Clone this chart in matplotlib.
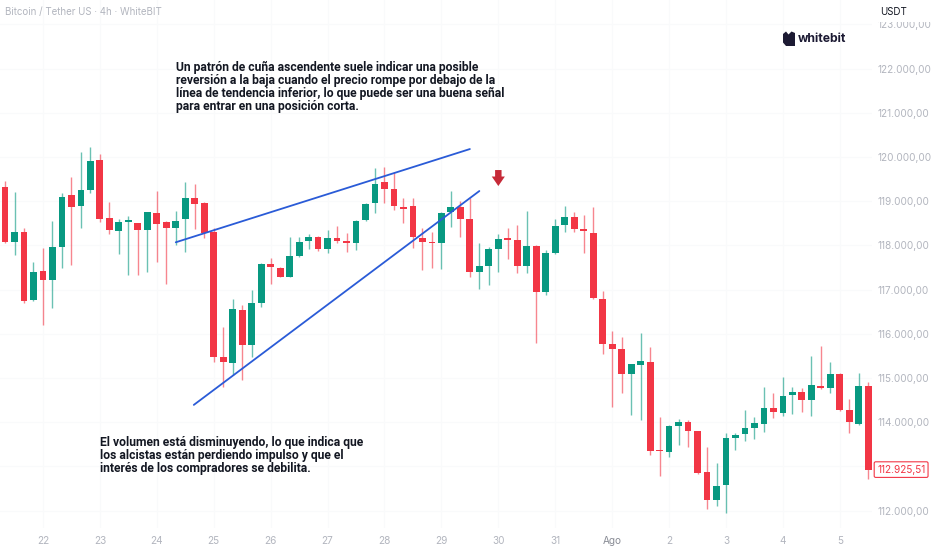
import matplotlib
matplotlib.use("Agg")
import matplotlib.pyplot as plt
import matplotlib.patches as mpatches
from matplotlib import ticker
from matplotlib.transforms import blended_transform_factory
import numpy as np

plt.rcParams['font.family'] = ['Inter', 'DejaVu Sans']

# BTC/USDT 4h candles, 21 Jul 08:00 -> 5 Aug
opens = [119330, 118080, 118310, 116760, 117410, 117220, 117970, 119130, 118890, 119250,
         119930, 118610, 118330, 118530, 118500, 118350, 118730, 118540, 118400, 118600,
         119070, 118950, 118310, 115470, 115330, 116540, 115740, 116690, 117580, 117480,
         117290, 117770, 118110, 118190, 117910, 118170, 118100, 118060, 118570, 118950,
         119430, 119270, 118860, 118880, 118170, 118060, 118050, 118750, 118860, 118590,
         117400, 117530, 117920, 118160, 118120, 117540, 117990, 116940, 117820, 118450,
         118650, 118360, 118290, 116790, 115770, 115650, 115090, 115300, 115360, 113370,
         113320, 113920, 114010, 113800, 112880, 112240, 112580, 113630, 113720, 113870,
         113950, 114330, 114210, 114610, 114680, 114500, 114820, 114770, 115080, 114270,
         113960, 114820]
highs = [119460, 119210, 118390, 117630, 117930, 118560, 119180, 119540, 120120, 120220,
         120070, 118980, 118590, 118670, 118510, 118760, 119240, 118560, 118770, 119440,
         119400, 118980, 118390, 116160, 116780, 116640, 116990, 117600, 117720, 117500,
         118180, 118190, 118260, 118220, 118350, 118440, 118270, 118570, 118950, 119740,
         119780, 119670, 119070, 119070, 118390, 118310, 118760, 119240, 119010, 119070,
         118050, 117970, 118250, 118390, 118470, 118780, 118000, 117900, 118590, 118890,
         118760, 118690, 118860, 116970, 116060, 115920, 115320, 116010, 115710, 114120,
         113930, 114060, 114050, 113810, 113430, 113070, 113750, 113750, 114270, 114110,
         114800, 114650, 115010, 114800, 114780, 115500, 115720, 115350, 115120, 114520,
         115110, 114900]
lows = [118050, 117780, 116690, 116730, 116200, 116580, 117480, 117560, 118390, 119190,
        118540, 118260, 117800, 117330, 117330, 117400, 117630, 117130, 118010, 117860,
        118360, 118160, 115370, 114800, 115070, 114950, 115470, 116600, 117130, 117280,
        117280, 117740, 117910, 117880, 117820, 118050, 117860, 117900, 118550, 118730,
        118950, 118800, 118500, 117930, 117440, 117480, 117460, 118420, 118180, 117290,
        117010, 117100, 117400, 117690, 117380, 117370, 115790, 116880, 117800, 118300,
        118310, 117830, 116790, 115540, 114350, 114670, 114160, 114050, 113260, 112770,
        113220, 113480, 113440, 112830, 112030, 112100, 111940, 113370, 113580, 113610,
        113780, 114090, 114140, 114180, 114240, 114140, 114740, 114650, 114260, 113760,
        113940, 112710]
closes = [118080, 118310, 116750, 117390, 117210, 117970, 119100, 118860, 119250, 119910,
          118600, 118350, 118530, 118550, 118350, 118750, 118480, 118400, 118550, 119070,
          118940, 118290, 115470, 115350, 116560, 115740, 116700, 117580, 117500, 117290,
          117770, 118080, 118190, 117910, 118170, 118100, 118060, 118560, 118940, 119400,
          119270, 118890, 118820, 118180, 118080, 118050, 118730, 118860, 118590, 117400,
          117530, 117920, 118150, 118120, 117540, 117990, 116940, 117830, 118440, 118640,
          118360, 118330, 116810, 115770, 115660, 115090, 115310, 115390, 113350, 113340,
          113920, 114010, 113810, 112840, 112240, 112560, 113630, 113710, 113870, 113970,
          114330, 114220, 114590, 114680, 114500, 114840, 114770, 115080, 114270, 114000,
          114820, 112925.51]

day_labels = ['22', '23', '24', '25', '26', '27', '28', '29', '30', '31', 'Ago', '2', '3', '4', '5']
first_day_idx = 4          # candle index of 22 Jul 00:00
bars_per_day = 6
price_ticks = [112000, 113000, 114000, 115000, 116000, 117000, 118000,
               119000, 120000, 121000, 122000, 123000]
last_price = 112925.51

# wedge trendlines (candle index, price)
upper_line = [(18.0, 118070), (49.0, 120180)]
lower_line = [(19.9, 114390), (50.0, 119230)]
arrow_idx, arrow_top, arrow_bottom = 52, 119705, 119343

text_top = ("Un patrón de cuña ascendente suele indicar una posible\n"
            "reversión a la baja cuando el precio rompe por debajo de la\n"
            "línea de tendencia inferior, lo que puede ser una buena señal\n"
            "para entrar en una posición corta.")
text_bottom = ("El volumen está disminuyendo, lo que indica que\n"
               "los alcistas están perdiendo impulso y que el\n"
               "interés de los compradores se debilita.")

UP = '#089981'
DOWN = '#f23645'
TXT = '#131722'
GRAY = '#b2b5be'

W, H = 932, 550
fig = plt.figure(figsize=(W / 100, H / 100), dpi=100)
fig.patch.set_facecolor('white')
ax = fig.add_axes([0, 22 / H, 872 / W, 528 / H])

o = np.array(opens, dtype=float)
h = np.array(highs, dtype=float)
l = np.array(lows, dtype=float)
c = np.array(closes, dtype=float)
x = np.arange(len(o))
up = c >= o
cols = np.where(up, UP, DOWN)

ax.vlines(x, l, h, colors=cols, lw=1.0, alpha=0.6, zorder=2)
body_bottom = np.minimum(o, c)
body_h = np.maximum(np.abs(c - o), 35)
ax.bar(x, body_h, bottom=body_bottom, width=0.72, color=cols, zorder=3, linewidth=0)

# trendlines
for line in (upper_line, lower_line):
    ax.plot([p[0] for p in line], [p[1] for p in line], color='#2a5bd7', lw=1.3, zorder=4,
            solid_capstyle='round')

# red arrow (shaft + head)
ax.arrow(arrow_idx, arrow_top, 0, arrow_bottom - arrow_top, width=0.68, head_width=1.38,
         head_length=215, length_includes_head=True, color='#c62a38', lw=0, zorder=5)

ax.set_xlim(-0.53, 91.39)
ax.set_ylim(111604, 123553)

# axes
for s in ax.spines.values():
    s.set_visible(False)
ax.yaxis.tick_right()
ax.yaxis.set_major_locator(ticker.FixedLocator(price_ticks))


def fmt_price(v, pos):
    if abs(v - 113000) < 1:
        return ''
    return f'{v:,.2f}'.replace(',', ' ').replace('.', ',').replace(' ', '.')


ax.yaxis.set_major_formatter(ticker.FuncFormatter(fmt_price))
ax.tick_params(axis='y', length=0, pad=3.6, labelsize=7.2, labelcolor=GRAY)
xt = [first_day_idx + bars_per_day * k for k in range(len(day_labels))]
ax.set_xticks(xt)
ax.set_xticklabels(day_labels)
ax.tick_params(axis='x', length=0, pad=6, labelsize=7.2, labelcolor=GRAY)
for lab in ax.get_xticklabels():
    if lab.get_text() == 'Ago':
        lab.set_color('#8a8d96')
ax.grid(True, color='#f9fafb', lw=0.8, zorder=0)
ax.set_axisbelow(True)

# last price label
tr = blended_transform_factory(ax.transAxes, ax.transData)
ax.text(1.0 + 5 / 872, last_price, f'{last_price:,.2f}'.replace(',', ' ').replace('.', ',').replace(' ', '.'),
        transform=tr, ha='left', va='center', fontsize=7.2, color=DOWN, clip_on=False, zorder=6,
        bbox=dict(boxstyle='round,pad=0.28,rounding_size=0.15', fc='white', ec=DOWN, lw=0.8))

# cover top of price scale like the screenshot
fig.add_artist(mpatches.Rectangle((872 / W, 1 - 22 / H), 60 / W, 22 / H, transform=fig.transFigure,
                                  fc='white', ec='none', zorder=10))
fig.text(880 / W, 1 - 12 / H, 'USDT', fontsize=7, color=TXT, va='center', ha='left', zorder=11)
fig.text(5 / W, 1 - 12 / H, 'Bitcoin / Tether US · 4h · WhiteBIT', fontsize=7, color=GRAY,
         va='center', ha='left', zorder=11)

# whitebit logo
icon = [(783, 34), (786, 31.5), (788.5, 34.5), (791.5, 31.5), (795, 33), (795, 46), (786, 46), (783, 42.5)]
fig.add_artist(mpatches.Polygon([(px / W, 1 - py / H) for px, py in icon], closed=True,
                                transform=fig.transFigure, fc='#1c1a33', ec='none', zorder=11))
fig.text(798 / W, 1 - 38.5 / H, 'whitebit', fontsize=8.8, fontweight='bold', color='#1c1a33',
         va='center', ha='left', zorder=11)

# annotations
note_font = ['Roboto', 'DejaVu Sans']
fig.text(176 / W, 1 - 61 / H, text_top, fontsize=8.7, fontweight='bold', color=TXT, family=note_font,
         va='top', ha='left', linespacing=0.98, zorder=11)
fig.text(100 / W, 1 - 436 / H, text_bottom, fontsize=8.7, fontweight='bold', color=TXT, family=note_font,
         va='top', ha='left', linespacing=1.02, zorder=11)

fig.savefig('out.png', dpi=100, facecolor='white')
